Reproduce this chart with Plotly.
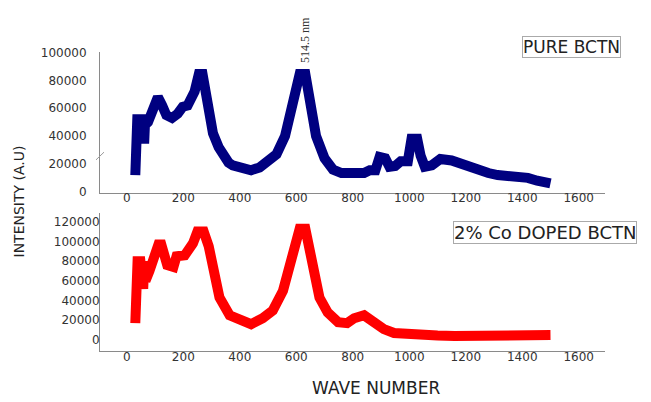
import plotly.graph_objects as go

W, H = 651, 402

# ---- data ----
wave_pure = [30, 37, 50, 52, 62, 64, 75, 95, 110, 125, 140, 160, 180, 198, 215, 240, 255, 268,
             285, 305, 325, 340, 360, 375, 400, 440, 470, 500, 530, 560, 590, 612, 632, 650,
             670, 700, 730, 760, 800, 840, 860, 880, 895, 915, 930, 950, 970, 995, 1008,
             1028, 1040, 1055, 1080, 1110, 1150, 1193, 1242, 1280, 1313, 1350, 1394, 1420,
             1453, 1500]
int_pure = [12000, 52000, 52000, 38000, 38000, 48000, 50000, 62000, 68000, 62000, 55000,
            53000, 56000, 61000, 62000, 72000, 84500, 84500, 66000, 42000, 32000, 26000, 21000,
            19000, 17500, 15500, 17500, 22000, 27000, 40000, 64000, 84500, 84500, 66000, 40000,
            24000, 16000, 13500, 13500, 13500, 15500, 15500, 25000, 24000, 18000, 18500, 22000,
            22000, 38000, 38000, 26000, 18000, 19000, 23500, 22500, 19500, 14500, 13500, 12000,
            11500, 11000, 10000, 8000, 6000]

wave_doped = [30, 38, 48, 50, 58, 62, 66, 80, 100, 112, 122, 143, 165, 176, 205, 234, 250,
              272, 290, 305, 328, 364, 400, 440, 481, 517, 553, 588, 612, 632, 658, 682, 711,
              748, 780, 805, 840, 875, 910, 946, 1000, 1040, 1100, 1160, 1280, 1395, 1500]
int_doped = [17000, 80000, 80000, 52000, 52000, 80000, 60000, 70000, 90000, 97000, 97000,
             76000, 74000, 85000, 86000, 98000, 110000, 110000, 95000, 76000, 43000, 25000,
             20000, 16000, 22000, 30000, 50000, 86000, 113000, 113000, 76000, 43000, 28000,
             18000, 17000, 22000, 25000, 17000, 11000, 7000, 5500, 5000, 4500, 4000, 4000,
             4500, 5000]

x_ticks = [0, 200, 400, 600, 800, 1000, 1200, 1400, 1600]
y_ticks_pure = [0, 20000, 40000, 60000, 80000, 100000]
y_ticks_doped = [0, 20000, 40000, 60000, 80000, 100000, 120000]


def px_x(p):
    return p / W


def px_y(p):
    return 1 - p / H


fig = go.Figure()
fig.add_trace(go.Scatter(x=wave_pure, y=int_pure, mode="lines",
                         line=dict(color="#000080", width=10), xaxis="x", yaxis="y",
                         showlegend=False))
fig.add_trace(go.Scatter(x=wave_doped, y=int_doped, mode="lines",
                         line=dict(color="#ff0000", width=10), xaxis="x2", yaxis="y2",
                         showlegend=False))

tick_font = dict(family="DejaVu Sans", size=12, color="#333333")
xdom = [px_x(100), px_x(605)]
axis_common = dict(showline=True, linecolor="#8a8a8a", linewidth=1, showgrid=False,
                   zeroline=False, ticks="", tickfont=tick_font)

fig.update_layout(
    width=W, height=H,
    margin=dict(l=0, r=0, t=0, b=0),
    paper_bgcolor="white", plot_bgcolor="white",
    xaxis=dict(domain=xdom, range=[-95, 1693], tickvals=x_ticks,
               ticktext=[str(v) for v in x_ticks], anchor="y",
               ticklabelstandoff=-6, **axis_common),
    yaxis=dict(domain=[px_y(192), px_y(47)], range=[-700, 100000], tickvals=y_ticks_pure,
               ticktext=[str(v) for v in y_ticks_pure],
               anchor="x", ticklabelstandoff=10, **axis_common),
    xaxis2=dict(domain=xdom, range=[-95, 1693], tickvals=x_ticks,
                ticktext=[str(v) for v in x_ticks], anchor="y2",
                ticklabelstandoff=-5, **axis_common),
    yaxis2=dict(domain=[px_y(355), px_y(213)], range=[-10800, 128800],
                tickvals=y_ticks_doped, ticktext=[str(v) for v in y_ticks_doped],
                anchor="x2", ticklabelstandoff=-3, **axis_common),
)

# axis break mark on the upper y-axis
fig.add_shape(type="line", xref="paper", yref="paper",
              x0=px_x(96), y0=px_y(158), x1=px_x(104), y1=px_y(150),
              line=dict(color="#9a9a9a", width=1))

ann_font = dict(family="DejaVu Sans", color="#222222")
center = dict(xref="paper", yref="paper", showarrow=False, xanchor="center",
              yanchor="middle")
fig.add_annotation(text="PURE BCTN", x=px_x(571), y=px_y(41),
                   font=dict(size=17, **ann_font), bgcolor="white",
                   bordercolor="#aaaaaa", borderwidth=1, borderpad=0, **center)
fig.add_annotation(text="2% Co DOPED BCTN", x=px_x(545), y=px_y(233),
                   font=dict(size=18, **ann_font),
                   bgcolor="white", bordercolor="#aaaaaa", borderwidth=1, borderpad=0,
                   **center)
fig.add_annotation(text="514.5 nm", x=px_x(305), y=px_y(34), textangle=-90,
                   font=dict(family="Liberation Serif", size=12, color="#333333"), **center)
fig.add_annotation(text="INTENSITY (A.U)", x=px_x(18), y=px_y(201), textangle=-90,
                   font=dict(family="DejaVu Sans", size=14, color="#222222"), **center)
fig.add_annotation(text="WAVE NUMBER", x=px_x(376), y=px_y(394),
                   font=dict(family="DejaVu Sans", size=17, color="#222222"), **center)

fig.write_html("out.html", config={"displayModeBar": False},
               post_script="document.body.style.margin='0';")
